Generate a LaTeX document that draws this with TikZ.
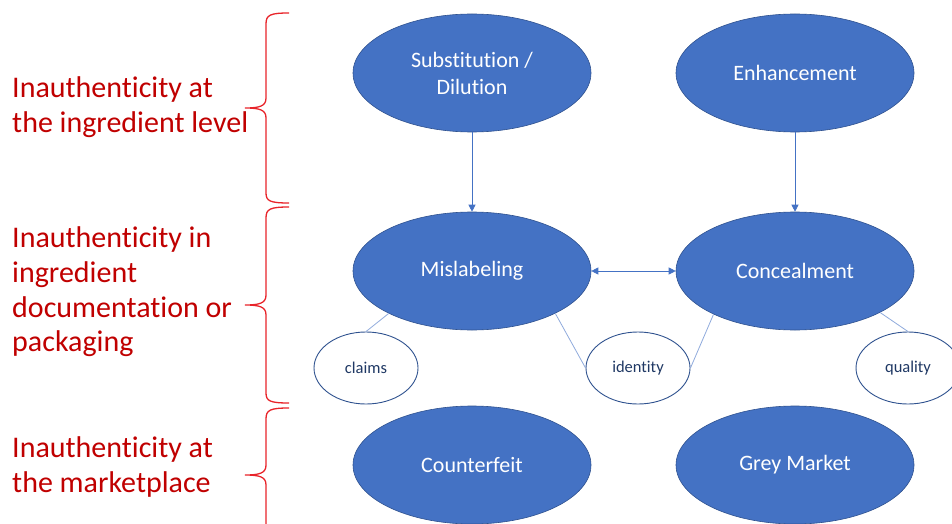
\documentclass[tikz,border=0pt]{standalone}
\usepackage{fontspec}
\setmainfont{Carlito}[Ligatures=NoCommon]
\usetikzlibrary{shapes.geometric,arrows.meta}
\definecolor{obl}{HTML}{4472C4}
\definecolor{obd}{HTML}{2F528F}
\definecolor{navy}{HTML}{1F3864}
\definecolor{lbl}{HTML}{8FAADC}
\definecolor{dred}{HTML}{C00000}
\definecolor{bred}{HTML}{E8242A}
\tikzset{
  big/.style={ellipse,draw=obd,line width=0.6pt,fill=obl,minimum width=238pt,minimum height=118pt,inner sep=0pt,text=white,font=\fontsize{22}{27}\selectfont,align=center},
  small/.style={ellipse,draw=obd,line width=0.9pt,fill=white,minimum width=104pt,minimum height=72pt,inner sep=0pt,text=navy,font=\fontsize{16.5}{19}\selectfont},
  lab/.style={anchor=base west,text=dred,font=\fontsize{30}{34.5}\selectfont,inner sep=0pt},
  conn/.style={draw=lbl,line width=0.8pt},
  arr/.style={draw=obl,line width=0.8pt,-{Triangle[length=7pt,width=7pt]}},
  brc/.style={draw=bred,line width=1.3pt}
}
\begin{document}
\begin{tikzpicture}[x=1pt,y=-1pt]
\useasboundingbox (0,0) rectangle (952,524);
% braces
\draw[brc] (289,13) .. controls (270,13) and (266,15) .. (266,24) -- (266,98) .. controls (266,106) and (260,108) .. (245,108) .. controls (260,108) and (266,110) .. (266,118) -- (266,193) .. controls (266,201) and (270,203) .. (289,203);
\draw[brc] (289,207) .. controls (270,207) and (266,209) .. (266,218) -- (266,295) .. controls (266,303) and (260,305) .. (245,305) .. controls (260,305) and (266,307) .. (266,315) -- (266,393) .. controls (266,401) and (270,403) .. (289,403);
\draw[brc] (289,408) .. controls (270,408) and (266,410) .. (266,419) -- (266,465) .. controls (266,473) and (260,475) .. (245,475) .. controls (260,475) and (266,477) .. (266,485) -- (266,540);
% labels
\node[lab] (l1a) at (12,98) {Inauthenticity at};
\node[lab] (l1b) at (12,132) {the ingredient level};
\node[lab] (l2a) at (12,247) {Inauthenticity in};
\node[lab] (l2b) at (12,282) {ingredient};
\node[lab] (l2c) at (12,317) {documentation or};
\node[lab] (l2d) at (12,351) {packaging};
\node[lab] (l3a) at (12,457) {Inauthenticity at};
\node[lab] (l3b) at (12,492) {the marketplace};
% big ellipses
\node[big] (sub) at (472,73) {Substitution /\\Dilution};
\node[big] (enh) at (795,73) {Enhancement};
\node[big] (mis) at (472,271) {Mislabeling};
\node[big] (con) at (795,271) {Concealment};
\node[big] (cou) at (472,465) {Counterfeit};
\node[big] (gre) at (795,465) {Grey Market};
% small ellipses
\node[small] (cla) at (366,368) {claims};
\node[small] (ide) at (638,368) {identity};
\node[small] (qua) at (908,368) {quality};
% connectors
\draw[conn] (cla.north) -- (mis.-153);
\draw[conn] (ide.west) -- (mis.-27);
\draw[conn] (ide.east) -- (con.-152);
\draw[conn] (qua.north) -- (con.-26);
\draw[arr] (sub) -- (mis);
\draw[arr] (enh) -- (con);
\draw[arr,{Triangle[length=7pt,width=7pt]}-{Triangle[length=7pt,width=7pt]}] (mis) -- (con);
\end{tikzpicture}
\end{document}
